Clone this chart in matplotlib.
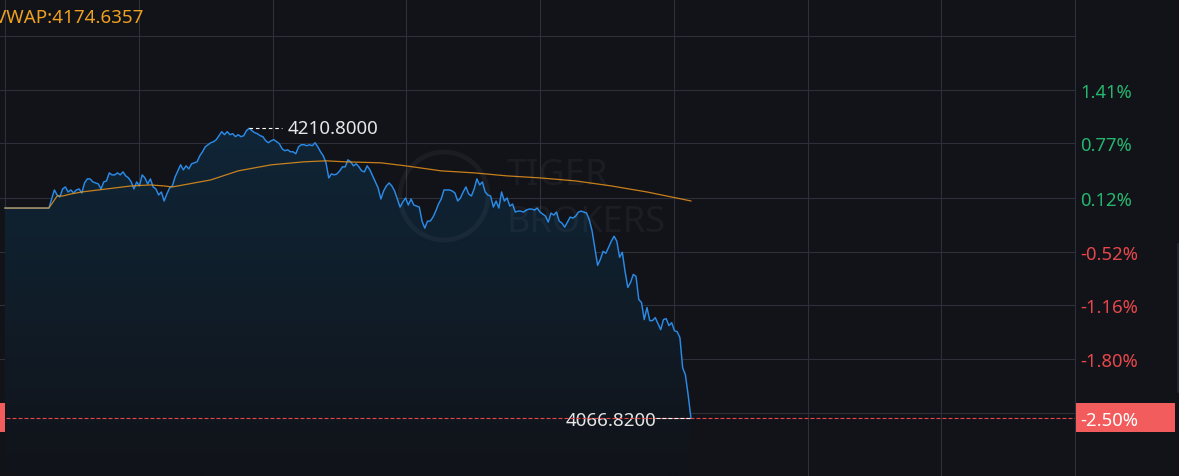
import matplotlib.pyplot as plt
import numpy as np
from matplotlib.patches import Rectangle, Ellipse, Polygon
from matplotlib.colors import LinearSegmentedColormap
from matplotlib.lines import Line2D

plt.rcParams['font.family'] = ['Noto Sans', 'DejaVu Sans']

# data (1-minute closes, minutes since open)
prev_close = 4171.1
price = [
    4171.1, 4171.1, 4171.1, 4171.1, 4171.1, 4171.1, 4171.1, 4171.1, 4171.1, 4171.1,
    4171.1, 4171.1, 4171.1, 4171.1, 4171.1, 4171.1, 4171.1,
    4175.6, 4180.1, 4177.6, 4176.6, 4180.6, 4181.6, 4179.1, 4180.1, 4178.6, 4180.1,
    4180.6, 4178.6, 4183.6, 4185.6, 4185.6, 4184.1, 4183.6, 4183.1, 4180.6, 4184.1,
    4184.6, 4188.6, 4187.6, 4187.6, 4188.6, 4187.6, 4189.1, 4187.1, 4186.1, 4184.1,
    4180.6, 4184.1, 4182.1, 4187.6, 4186.1, 4183.1, 4185.6, 4181.6, 4180.6, 4177.6,
    4179.1, 4174.6, 4178.1, 4181.1, 4182.1, 4186.6, 4189.6, 4192.6, 4190.1, 4192.1,
    4190.6, 4193.1, 4193.6, 4194.1, 4197.1, 4199.1, 4201.6, 4202.6, 4203.6, 4204.1,
    4205.1, 4207.1, 4209.1, 4207.6, 4209.1, 4207.6, 4208.1, 4206.6, 4207.6, 4206.6,
    4207.1, 4209.6, 4210.8, 4209.6, 4208.6, 4208.1, 4207.1, 4206.6, 4204.6, 4203.6,
    4204.6, 4205.1, 4204.1, 4203.1, 4200.6, 4199.6, 4200.1, 4199.1, 4199.1, 4198.1,
    4201.6, 4202.6, 4202.6, 4202.1, 4202.6, 4202.1, 4203.6, 4201.6, 4199.1, 4197.1,
    4193.6, 4186.1, 4188.1, 4187.6, 4188.1, 4189.6, 4191.6, 4191.6, 4195.1, 4194.1,
    4192.1, 4193.1, 4191.6, 4189.6, 4189.1, 4192.1, 4190.1, 4187.1, 4184.1, 4181.1,
    4175.6, 4179.6, 4182.1, 4183.6, 4182.1, 4179.6, 4175.6, 4171.6, 4174.1, 4176.1,
    4172.6, 4175.6, 4172.6, 4172.1, 4171.6, 4164.6, 4161.1, 4164.6, 4164.6, 4166.6,
    4169.6, 4173.1, 4175.6, 4180.1, 4180.1, 4180.1, 4179.6, 4178.6, 4174.6, 4176.1,
    4179.1, 4181.6, 4178.1, 4177.1, 4180.6, 4185.6, 4182.6, 4184.1, 4179.1, 4177.6,
    4177.1, 4171.6, 4174.6, 4171.1, 4179.1, 4174.6, 4176.1, 4172.1, 4173.1, 4169.1,
    4169.6, 4169.6, 4169.1, 4170.1, 4170.6, 4170.6, 4170.1, 4171.1, 4169.1, 4168.1,
    4167.1, 4164.1, 4168.6, 4167.6, 4169.1, 4164.6, 4163.6, 4161.6, 4164.1, 4166.6,
    4166.1, 4167.1, 4169.1, 4169.6, 4169.1, 4168.6, 4165.1, 4159.6, 4151.1, 4142.6,
    4145.6, 4149.6, 4148.6, 4151.6, 4154.6, 4157.1, 4154.6, 4146.6, 4149.1, 4139.6,
    4131.6, 4134.1, 4138.1, 4137.1, 4125.6, 4124.1, 4115.6, 4121.6, 4115.1, 4115.1,
    4116.6, 4113.6, 4110.6, 4115.6, 4116.1, 4112.6, 4114.1, 4110.1, 4109.6, 4106.6,
    4091.6, 4088.1, 4078.1, 4066.82,
]
vwap_min = [0, 16, 19, 21, 24, 28, 37, 46, 53, 58, 61, 67, 75, 85, 97, 109, 117,
            124, 137, 146, 159, 171, 183, 195, 208, 221, 234, 250]
vwap = [4171.1, 4171.1, 4177.1, 4177.1, 4178.1, 4179.1, 4180.6, 4182.1, 4182.6,
        4182.1, 4181.6, 4183.1, 4185.1, 4189.6, 4192.6, 4194.1, 4194.6, 4194.1,
        4193.6, 4192.1, 4189.6, 4188.6, 4187.1, 4186.1, 4184.6, 4182.1, 4179.1,
        4174.6357]
grid_pct = [2.05, 1.41, 0.77, 0.12, -0.52, -1.16, -1.80, -2.44]
grid_lbl = ['', '1.41%', '0.77%', '0.12%', '-0.52%', '-1.16%', '-1.80%', '']
session_min = 390
vwap_text = 'VWAP:4174.6357'

bg = '#111319'
grid_c = '#2b303b'
green = '#26b56e'
red = '#e5474b'
box_red = '#f25c5c'

W, H = 1179, 477
AW = 1075
fig = plt.figure(figsize=(W / 100, H / 100), dpi=100, facecolor=bg)
ax = fig.add_axes([0, 0, AW / W, 1], facecolor=bg)

t = np.arange(len(price))
price = np.array(price)
ybot, ytop = 4037.8, 4275.1
xmin = -5 * session_min / 1070

# grid
for g in grid_pct:
    ax.axhline(prev_close * (1 + g / 100), color=grid_c, lw=0.8, zorder=1)
for v in np.linspace(0, session_min, 9):
    ax.axvline(v, color=grid_c, lw=0.8, zorder=1)

# gradient area under price
verts = [(t[0], ybot)] + list(zip(t, price)) + [(t[-1], ybot)]
poly = Polygon(verts, closed=True, fc='none', ec='none')
ax.add_patch(poly)
cmap = LinearSegmentedColormap.from_list('f', [bg, '#101d29', '#0f2537'])
grad = np.linspace(0, 1, 256).reshape(-1, 1)
im = ax.imshow(grad, cmap=cmap, origin='lower', aspect='auto',
               extent=[t[0], t[-1], ybot, price.max()], zorder=2)
im.set_clip_path(poly)

# watermark
wm = (1, 1, 1, 0.045)
ax.add_patch(Ellipse((444 / AW, 1 - 197 / H), 88 / AW, 88 / H, transform=ax.transAxes,
                     fill=False, ec=wm, lw=3.5, zorder=3))
fig.text(507 / W, 1 - 185 / H, 'TIGER', color=wm, fontsize=26, fontweight='bold', zorder=3)
fig.text(507 / W, 1 - 232 / H, 'BROKERS', color=wm, fontsize=26, fontweight='bold', zorder=3)

ax.plot(t, price, color='#2b8ae6', lw=1.05, zorder=4)
ax.plot(vwap_min, vwap, color='#e8921a', lw=0.9, alpha=0.85, zorder=5)

# last price dashed line
last = price[-1]
ax.axhline(last, color=red, lw=0.8, ls=(0, (3.6, 1.8)), zorder=6)
ax.plot([t[-1] - 12.8, t[-1]], [last, last], color='white', lw=0.8,
        ls=(0, (3.6, 1.8)), zorder=7)
ax.annotate(f'{last:.4f}', xy=(t[-1], last), xytext=(-35, -7.5),
            textcoords='offset pixels', ha='right', va='baseline',
            color='#e6e6e6', fontsize=13.5, zorder=5)

# high marker
ip = int(np.argmax(price))
ax.plot([t[ip], t[ip] + 12], [price[ip]] * 2, color='white', lw=0.8,
        ls=(0, (3.2, 2.6)), zorder=7)
ax.annotate(f'{price[ip]:.4f}', xy=(t[ip], price[ip]), xytext=(38, -5),
            textcoords='offset pixels', ha='left', va='baseline',
            color='#e6e6e6', fontsize=13.5, zorder=7)

ax.set_xlim(xmin, session_min)
ax.set_ylim(ybot, ytop)
ax.set_xticks([])
ax.yaxis.tick_right()
ax.set_yticks([prev_close * (1 + g / 100) for g in grid_pct], grid_lbl)
ax.tick_params(axis='y', length=0, pad=3.6, labelsize=13.3)
for lab, g in zip(ax.get_yticklabels(), grid_pct):
    lab.set_color(green if g > 0 else red)
for s in ['top', 'left', 'bottom']:
    ax.spines[s].set_visible(False)
ax.spines['right'].set_color(grid_c)
ax.spines['right'].set_linewidth(0.8)

# price boxes
fig.patches.append(Rectangle((0, 44 / H), 5 / W, 29 / H, transform=fig.transFigure,
                             fc=box_red, ec='none', zorder=10))
fig.patches.append(Rectangle((1076 / W, 44 / H), 99 / W, 29 / H, transform=fig.transFigure,
                             fc=box_red, ec='none', zorder=10))
fig.text(1080 / W, 1 - 419 / H, f'{(last / prev_close - 1) * 100:.2f}%', color='white',
         fontsize=13.3, va='center_baseline', ha='left', zorder=11)
fig.lines.append(Line2D([1178 / W, 1178 / W], [1 - 393 / H, 1 - 245 / H],
                        transform=fig.transFigure, color='#262a34', lw=1.2))

fig.text(143 / W, 1 - 23 / H, vwap_text, color='#f0a020', fontsize=13.5,
         ha='right', va='baseline')

fig.savefig('out.png', dpi=100, facecolor=bg)
